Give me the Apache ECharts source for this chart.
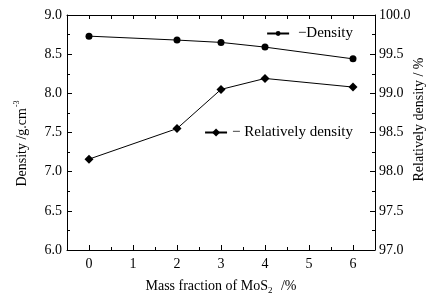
<!DOCTYPE html>
<html>
<head>
<meta charset="utf-8">
<script src="https://cdn.jsdelivr.net/npm/echarts@6/dist/echarts.min.js"></script>
<style>
  html, body { margin: 0; padding: 0; background: #fff; }
  #chart { width: 426px; height: 296px; }
</style>
</head>
<body>
<div id="chart"></div>
<script>
// data
var mosFraction = [0, 2, 3, 4, 6];
var density = [8.73, 8.68, 8.65, 8.59, 8.44];
var relDensity = [98.16, 98.55, 99.05, 99.19, 99.08];
var xLabels = [0, 1, 2, 3, 4, 5, 6];
var xHalf = [-0.5, 0.5, 1.5, 2.5, 3.5, 4.5, 5.5, 6.5];

var font = 'Liberation Serif';
var black = '#000';

function pairs(xs, ys) {
  return xs.map(function (x, i) { return [x, ys[i]]; });
}

var tickStyle = { color: black, width: 1 };

option = {
  backgroundColor: '#fff',
  animation: false,
  textStyle: { fontFamily: font, color: black },
  grid: { left: 67, right: 51, top: 15, bottom: 46, outerBoundsMode: 'none' },
  legend: [
    {
      data: ['Density'],
      right: 68,
      top: 21,
      itemWidth: 22,
      itemHeight: 6,
      itemGap: 2,
      formatter: ' \u2212{name}',
      textStyle: { fontFamily: font, fontSize: 15, color: black }
    },
    {
      data: ['Relatively density'],
      right: 68,
      top: 120,
      itemWidth: 22,
      itemHeight: 10,
      formatter: '\u2212 {name}',
      textStyle: { fontFamily: font, fontSize: 15, color: black }
    }
  ],
  xAxis: [
    {
      type: 'value',
      position: 'bottom',
      min: -0.5,
      max: 6.5,
      name: 'Mass fraction of MoS{sub|2} /%',
      nameLocation: 'middle',
      nameGap: 28,
      nameMoveOverlap: false,
      nameTextStyle: {
        fontFamily: font, fontSize: 14, color: black,
        rich: { sub: { fontFamily: font, fontSize: 9, color: black, padding: [8, 5, 0, 0] } }
      },
      splitLine: { show: false },
      axisLine: { onZero: false, lineStyle: { color: black, width: 1 } },
      axisTick: { inside: true, length: 5, lineStyle: tickStyle, customValues: xLabels },
      axisLabel: { customValues: xLabels, fontFamily: font, fontSize: 14, color: black, margin: 7 }
    },
    {
      type: 'value',
      position: 'bottom',
      min: -0.5,
      max: 6.5,
      splitLine: { show: false },
      axisLine: { show: false, onZero: false },
      axisTick: { inside: true, length: 3, lineStyle: tickStyle, customValues: xHalf },
      axisLabel: { show: false }
    },
    {
      type: 'value',
      position: 'top',
      min: -0.5,
      max: 6.5,
      splitLine: { show: false },
      axisLine: { onZero: false, lineStyle: { color: black, width: 1 } },
      axisTick: { inside: true, length: 4, lineStyle: tickStyle, customValues: xLabels.concat(xHalf) },
      axisLabel: { show: false }
    }
  ],
  yAxis: [
    {
      type: 'value',
      position: 'left',
      min: 6,
      max: 9,
      interval: 0.5,
      name: 'Density /g.cm{sup|-3}',
      nameLocation: 'middle',
      nameGap: 36,
      nameMoveOverlap: false,
      nameTextStyle: {
        fontFamily: font, fontSize: 14, color: black,
        padding: [0, 22, 0, 0],
        rich: { sup: { fontFamily: font, fontSize: 8, color: black, padding: [0, 0, 10, 1] } }
      },
      splitLine: { show: false },
      axisLine: { show: true, onZero: false, lineStyle: { color: black, width: 1 } },
      axisTick: { inside: true, length: 5, lineStyle: tickStyle },
      minorTick: { show: true, splitNumber: 2, length: 3, lineStyle: { color: black } },
      axisLabel: {
        fontFamily: font, fontSize: 14, color: black, margin: 5,
        formatter: function (v) { return v.toFixed(1); }
      }
    },
    {
      type: 'value',
      position: 'right',
      min: 97,
      max: 100,
      interval: 0.5,
      name: 'Relatively density / %',
      nameLocation: 'middle',
      nameGap: 37,
      nameMoveOverlap: false,
      nameRotate: 90,
      nameTextStyle: { fontFamily: font, fontSize: 14, color: black, padding: [0, 0, 0, 26] },
      splitLine: { show: false },
      axisLine: { show: true, onZero: false, lineStyle: { color: black, width: 1 } },
      axisTick: { inside: true, length: 5, lineStyle: tickStyle },
      minorTick: { show: true, splitNumber: 2, length: 3, lineStyle: { color: black } },
      axisLabel: {
        fontFamily: font, fontSize: 14, color: black, margin: 4,
        formatter: function (v) { return v.toFixed(1); }
      }
    }
  ],
  series: [
    {
      name: 'Density',
      type: 'line',
      xAxisIndex: 0,
      yAxisIndex: 0,
      data: pairs(mosFraction, density),
      symbol: 'circle',
      symbolSize: 7,
      lineStyle: { color: black, width: 1 },
      itemStyle: { color: black }
    },
    {
      name: 'Relatively density',
      type: 'line',
      xAxisIndex: 0,
      yAxisIndex: 1,
      data: pairs(mosFraction, relDensity),
      symbol: 'diamond',
      symbolSize: 9,
      lineStyle: { color: black, width: 1 },
      itemStyle: { color: black }
    }
  ]
};

var myChart = echarts.init(document.getElementById('chart'));
myChart.setOption(option);
window.addEventListener('resize', function () {
  myChart.resize();
});
</script>
</body>
</html>
